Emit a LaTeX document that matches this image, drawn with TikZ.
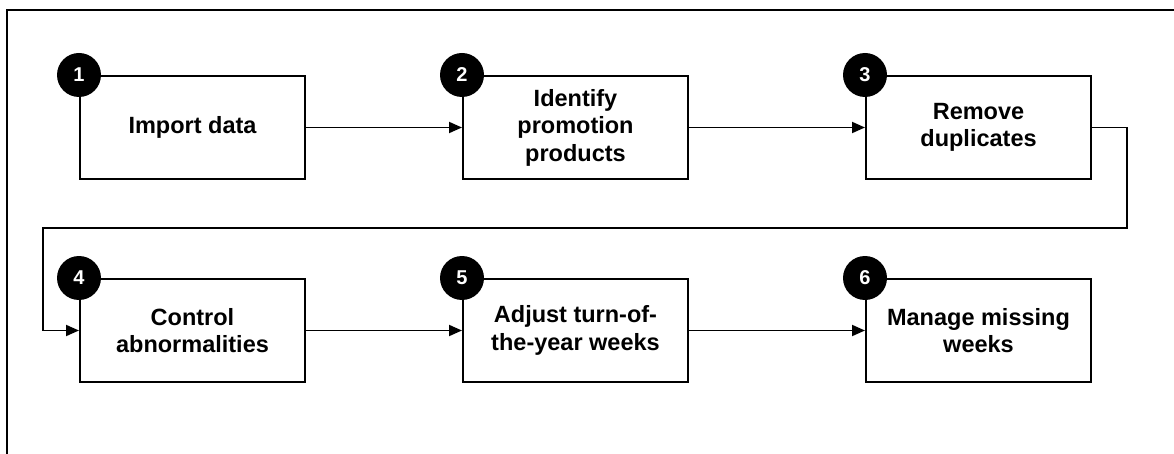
\documentclass[tikz,border=0pt]{standalone}
\usepackage{fontspec}
\setmainfont{Liberation Sans}
\usetikzlibrary{arrows.meta}

\tikzset{
  stepbox/.style={draw, line width=2pt, minimum width=225pt, minimum height=103pt,
    inner sep=0pt, align=center, font=\fontsize{23.5}{27.5}\selectfont\bfseries},
  numdot/.style={circle, fill=black, minimum size=44pt, inner sep=0pt,
    text=white, font=\fontsize{20}{20}\selectfont\bfseries},
  flow/.style={->, line width=1.8pt}
}

\begin{document}
\begin{tikzpicture}[x=1pt, y=-1pt, >={Triangle[length=13pt,width=11pt]}]
\useasboundingbox (0,0) rectangle (1174,454);
% frame
\draw[line width=2.6pt] (7,454) -- (7,10);
\draw[line width=1.5pt] (6,10) -- (1174,10);
% first row
\node[stepbox] (imp) at (192.5,127.5) {Import data};
\node[stepbox] (promo) at (575.5,127.5) {Identify\\promotion\\products};
\node[stepbox] (dup) at (978.5,127.5) {Remove\\duplicates};
% second row
\node[stepbox] (abn) at (192.5,330.5) {Control\\abnormalities};
\node[stepbox] (turn) at (575.5,330.5) {Adjust turn-of-\\the-year weeks};
\node[stepbox] (miss) at (978.5,330.5) {Manage missing\\weeks};
% numbers
\node[numdot] (n1) at (imp.north west) {1};
\node[numdot] (n2) at (promo.north west) {2};
\node[numdot] (n3) at (dup.north west) {3};
\node[numdot] (n4) at (abn.north west) {4};
\node[numdot] (n5) at (turn.north west) {5};
\node[numdot] (n6) at (miss.north west) {6};
% arrows
\coordinate (wrapR) at (1127,228);
\coordinate (wrapL) at (43,228);
\draw[flow] (imp) -- (promo);
\draw[flow] (promo) -- (dup);
\draw[flow] (dup.east) -| (wrapR) -- (wrapL) |- (abn.west);
\draw[flow] (abn) -- (turn);
\draw[flow] (turn) -- (miss);
\end{tikzpicture}
\end{document}
